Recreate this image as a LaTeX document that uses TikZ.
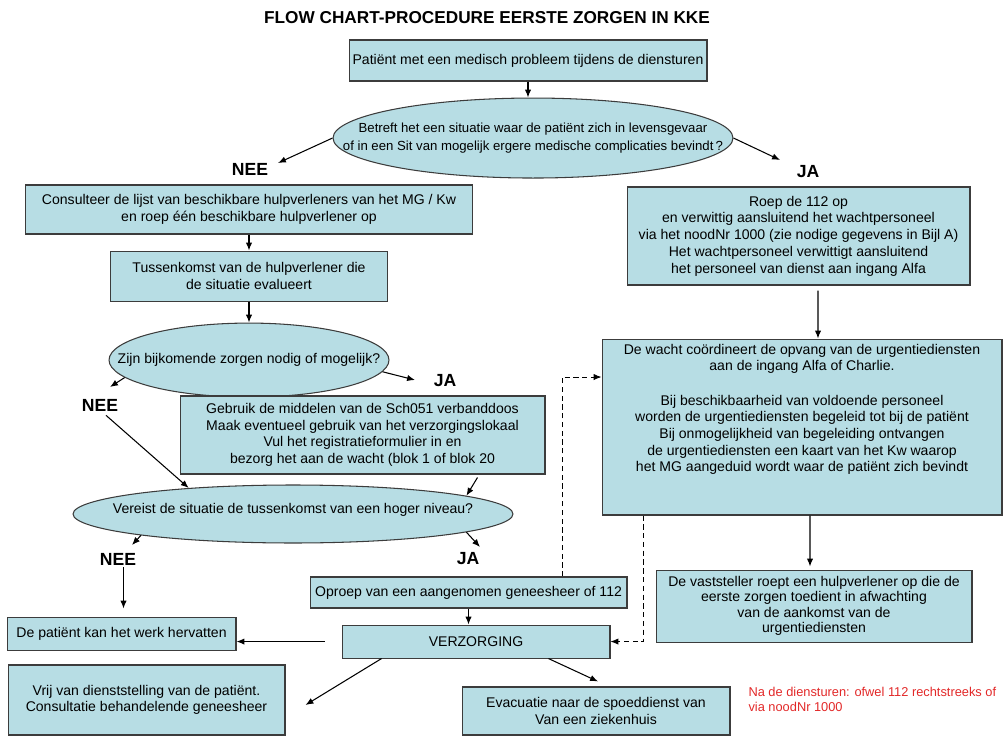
\documentclass[tikz,border=0pt]{standalone}
\usepackage{fontspec}
\setmainfont{Liberation Sans}
\usepackage{xcolor}
\usepackage{tikz}
\usetikzlibrary{positioning, arrows.meta, shapes.geometric, calc}

\definecolor{kadervul}{RGB}{183,221,228}
\definecolor{kaderrand}{RGB}{60,60,60}
\definecolor{notarood}{RGB}{226,40,40}

% tekst in een ellips zonder dat de ellips groter wordt
\newcommand{\ellipstekst}[1]{\makebox[0pt]{\begin{tabular}{@{}c@{}}#1\end{tabular}}}

\begin{document}
\begin{tikzpicture}[x=0.02cm, y=-0.02cm, >={Latex[length=4.5pt, width=3.6pt]}, line width=0.6pt,
    kader/.style={draw=kaderrand, fill=kadervul, inner sep=0pt, align=center, font=\fontsize{8}{9.5}\selectfont},
    vraag/.style={kader, ellipse},
    antw/.style={font=\fontsize{10}{12}\selectfont\bfseries, inner sep=1pt}]

        \useasboundingbox (0,0) rectangle (1003,736);

        % Titel
        \node [font=\fontsize{9.8}{12}\selectfont\bfseries] (titel) at (487,18) {FLOW CHART-PROCEDURE EERSTE ZORGEN IN KKE};

        % Kaders en vragen (links)
        \node [kader, minimum width=7.16cm, minimum height=0.82cm] (start) at (528,60.5) {Patiënt met een medisch probleem tijdens de diensturen};
        \node [vraag, below=0.32cm of start, xshift=0.1cm, minimum width=8cm, minimum height=1.6cm, font=\fontsize{7.5}{10}\selectfont] (vraag1) {\ellipstekst{Betreft het een situatie waar de patiënt zich in levensgevaar\\of in een Sit van mogelijk ergere medische complicaties bevindt\,?}};
        \node [kader, minimum width=8.96cm, minimum height=0.98cm] (consult) at (249,209.5) {Consulteer de lijst van beschikbare hulpverleners van het MG / Kw\\en roep één beschikbare hulpverlener op};
        \node [kader, below=0.32cm of consult, minimum width=5.54cm, minimum height=1cm] (tussen) {Tussenkomst van de hulpverlener die\\de situatie evalueert};
        \node [vraag, below=0.42cm of tussen, minimum width=5.6cm, minimum height=1.48cm] (vraag2) {\ellipstekst{Zijn bijkomende zorgen nodig of mogelijk?}};
        \node [kader, minimum width=7.3cm, minimum height=1.56cm] (gebruik) at (362.5,435) {Gebruik de middelen van de Sch051 verbanddoos\\Maak eventueel gebruik van het verzorgingslokaal\\Vul het registratieformulier in en\\bezorg het aan de wacht (blok 1 of blok 20};
        \node [vraag, minimum width=8.8cm, minimum height=1.16cm] (vraag3) at (293,514) {\ellipstekst{\raisebox{3pt}{Vereist de situatie de tussenkomst van een hoger niveau?}}};
        \node [kader, minimum width=6.34cm, minimum height=0.62cm] (oproep) at (468.5,592.5) {Oproep van een aangenomen geneesheer of 112};
        \node [kader, below=0.32cm of oproep, xshift=0.15cm, minimum width=5.36cm, minimum height=0.66cm] (verzorging) {VERZORGING};
        \node [kader, left=2.1cm of verzorging, yshift=0.16cm, minimum width=4.58cm, minimum height=0.66cm] (hervat) {De patiënt kan het werk hervatten};
        \node [kader, minimum width=5.54cm, minimum height=1.4cm] (vrij) at (146.5,700) {Vrij van dienststelling van de patiënt.\\Consultatie behandelende geneesheer};
        \node [kader, minimum width=5.36cm, minimum height=0.96cm] (evacuatie) at (596,711) {Evacuatie naar de spoeddienst van\\Van een ziekenhuis};

        % Kaders (rechts)
        \node [kader, minimum width=6.86cm, minimum height=1.96cm] (roep) at (798.5,236) {Roep de 112 op\\en verwittig aansluitend het wachtpersoneel\\via het noodNr 1000 (zie nodige gegevens in Bijl A)\\Het wachtpersoneel verwittigt aansluitend\\het personeel van dienst aan ingang Alfa};
        \node [kader, below=1.06cm of roep, xshift=0.07cm, minimum width=8cm, minimum height=3.52cm] (wacht) {};
        \node [below=0.1cm of wacht.north, inner sep=0pt, align=center, font=\fontsize{8}{9.5}\selectfont] (wachttekst) {De wacht coördineert de opvang van de urgentiediensten\\aan de ingang Alfa of Charlie.\\[10pt]Bij beschikbaarheid van voldoende personeel\\worden de urgentiediensten begeleid tot bij de patiënt\\Bij onmogelijkheid van begeleiding ontvangen\\de urgentiediensten een kaart van het Kw waarop\\het MG aangeduid wordt waar de patiënt zich bevindt};
        \node [kader, below=1.08cm of wacht, xshift=0.24cm, minimum width=6.32cm, minimum height=1.44cm, font=\fontsize{8}{8.8}\selectfont] (vaststeller) {De vaststeller roept een hulpverlener op die de\\eerste zorgen toedient in afwachting\\van de aankomst van de\\urgentiediensten};

        % Antwoorden
        \node [antw] (nee1) at (250,169) {NEE};
        \node [antw] (ja1) at (808,172) {JA};
        \node [antw] (nee2) at (100,405) {NEE};
        \node [antw] (ja2) at (445,381) {JA};
        \node [antw] (nee3) at (118,559) {NEE};
        \node [antw] (ja3) at (468,559) {JA};

        % Nota
        \node [anchor=north west, inner sep=0pt, align=left, text=notarood, font=\fontsize{7.3}{8.6}\selectfont] (nota) at (748,687) {Na de diensturen: ofwel 112 rechtstreeks of\\via noodNr 1000};

        % Pijlen
        \draw [->] (start.south) -- (start.south |- vraag1.north);
        \draw [->] (vraag1.west) -- ($(nee1)+(28,-6)$);
        \draw [->] (vraag1.east) -- ($(ja1)+(-28,-12)$);
        \draw [->] (consult.south) -- (tussen.north);
        \draw [->] (tussen.south) -- (vraag2.north);
        \draw [->] (vraag2.188) -- ($(nee2)+(10,-18)$);
        \draw [->] (vraag2.-5) -- ($(ja2)+(-30,-1)$);
        \draw [->] ($(nee2.south)+(6,2)$) -- (vraag3.166);
        \draw [->] ($(gebruik.south east)+(-68,3)$) -- (vraag3.6);
        \draw [->] (vraag3.188) -- ($(nee3)+(14,-14)$);
        \draw [->] (vraag3.-6) -- ($(ja3)+(12,-12)$);
        \draw [->, shorten >=0.16cm] ($(nee3.south)+(5.5,0)$) -- ($(nee3.south |- hervat.north)+(5.5,0)$);
        \draw [->] (oproep.south) -- (oproep.south |- verzorging.north);
        \draw [->, shorten <=0.34cm] (verzorging.west) -- (verzorging.west -| hervat.east);
        \draw [->] ($(verzorging.south west)+(40,0)$) -- ($(vrij.east)+(20,5)$);
        \draw [->] ($(verzorging.south east)+(-62,0)$) -- ($(evacuatie.north)+(2,-5)$);
        \draw [->] ($(roep.south)+(19.5,5)$) -- ($(wacht.north)+(16,0)$);
        \draw [->] ($(wacht.south)+(8,0)$) -- ($(vaststeller.north)+(-4,-3)$);

        % Gestippelde pijlen
        \draw [->, densely dashed, line width=0.5pt] ($(oproep.north)+(93.5,0)$) |- ($(wacht.west)+(0,-50)$);
        \draw [->, densely dashed, line width=0.5pt] ($(wacht.south west)+(42,0)$) |- (verzorging.east);

    \end{tikzpicture}
\end{document}
